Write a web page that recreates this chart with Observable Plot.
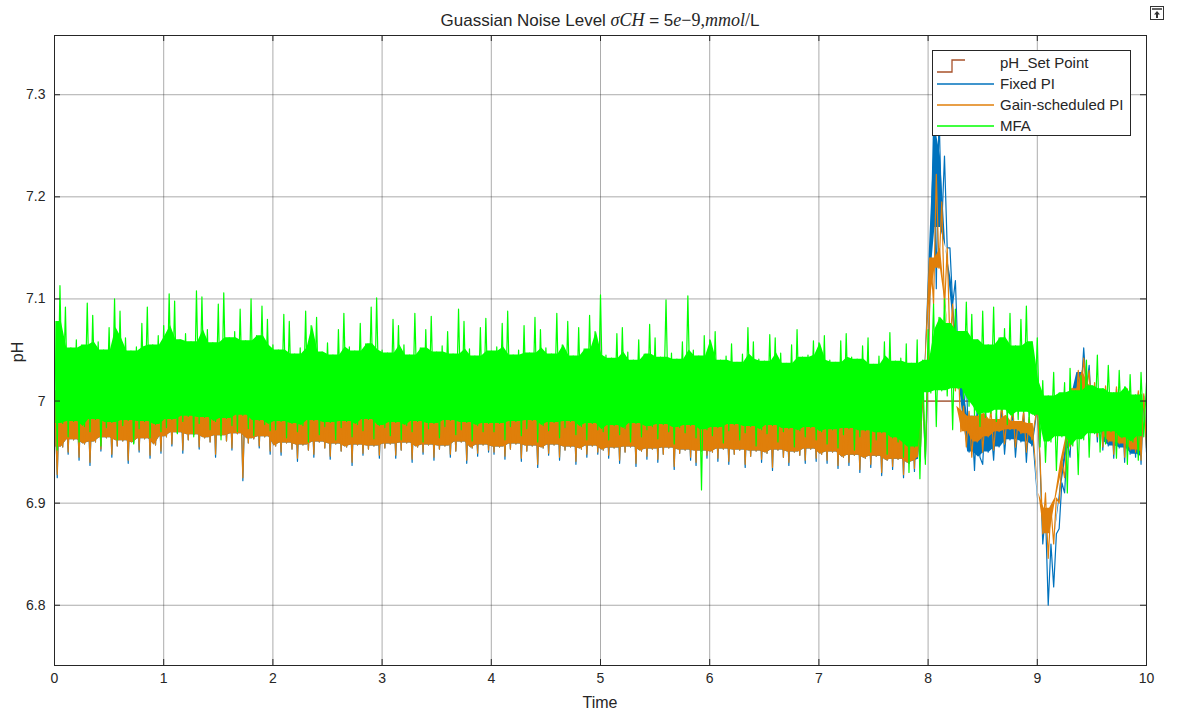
<!DOCTYPE html>
<html><head><meta charset="utf-8">
<script src="https://cdn.jsdelivr.net/npm/d3@7"></script>
<script src="https://cdn.jsdelivr.net/npm/@observablehq/plot@0.6"></script>
<style>
html,body{margin:0;padding:0;background:#fff;overflow:hidden}
#wrap{position:relative;width:1177px;height:718px;font-family:"Liberation Sans",Arial,sans-serif;color:#262626}
.abs{position:absolute;white-space:nowrap}
#title{left:600px;top:10px;transform:translateX(-50%);font-size:17px;line-height:20px}
.m{font-family:"Liberation Serif","DejaVu Serif",serif;font-style:italic;font-size:18px}
.s{font-family:"Liberation Serif","DejaVu Serif",serif;font-size:18px}
#xlab{left:600px;top:694px;transform:translateX(-50%);font-size:16px;line-height:18px}
#ylab{left:18px;top:352px;transform:translate(-50%,-50%) rotate(-90deg);font-size:16px;line-height:18px}
</style></head><body>
<div id="wrap">
<div id="chart"></div>
<div id="title" class="abs">Guassian Noise Level <span class="m">σCH</span> = 5<span class="m">e</span><span class="s">−9,</span><span class="m">mmol</span><span class="s">/</span>L</div>
<div id="xlab" class="abs">Time</div>
<div id="ylab" class="abs">pH</div>
</div>
<script>
// sample step of the simulation output (time units)
const dt = 0.025;
// tick labels
const xTicks = [0,1,2,3,4,5,6,7,8,9,10];
const yTicks = [6.8,6.9,7,7.1,7.2,7.3];
// series names
const seriesNames = ["pH_Set Point","Fixed PI","Gain-scheduled PI","MFA"];
// set point (time, pH)
const setPointT = [0, 10];
const setPointPH = [7, 7];
// pH deviations from 7, in thousandths of a pH unit, one value every dt
const mfa = [
78,-48,113,-22,92,-35,52,-20,60,-40,55,-25,96,-30,84,-18,58,-44,50,-26,72,-21,100,-38,88,-24,62,-19,49,-42,53,-27,76,-20,92,-36,55,-23,64,-30,
74,-26,105,-18,98,-32,60,-20,66,-15,58,-35,108,-22,102,-16,70,-28,57,-20,95,-38,106,-17,62,-24,68,-30,90,-14,59,-27,100,-34,64,-19,93,-23,80,-29,
55,-28,50,-20,85,-36,78,-22,46,-30,52,-24,88,-40,74,-19,82,-33,48,-25,57,-21,45,-38,70,-26,86,-20,53,-35,49,-23,76,-29,56,-18,92,-37,101,-24,
50,-26,47,-34,80,-21,74,-38,55,-24,45,-30,86,-20,52,-40,70,-27,83,-22,48,-36,54,-25,68,-19,46,-33,90,-28,78,-21,51,-39,44,-24,72,-30,81,-22,
49,-30,53,-22,76,-38,88,-25,45,-20,50,-34,74,-27,47,-19,82,-40,70,-24,52,-29,46,-21,86,-36,55,-26,78,-20,44,-33,72,-25,51,-38,84,-22,68,-28,
104,-30,45,-38,42,-24,66,-33,72,-27,48,-40,40,-22,60,-35,46,-28,75,-25,62,-37,43,-23,99,-30,47,-42,41,-26,58,-31,103,-24,50,-36,44,-87,64,-28,
60,-34,68,-26,40,-41,44,-29,56,-23,38,-38,46,-31,72,-25,58,-44,41,-28,39,-32,65,-24,62,-40,47,-30,37,-27,55,-45,70,-29,43,-35,45,-26,59,-38,
57,-30,64,-42,40,-28,38,-46,59,-33,66,-27,43,-48,41,-35,54,-29,62,-50,36,-38,44,-31,58,-52,67,-36,39,-40,42,-55,56,-70,37,-45,60,-76,40,-62,
70,8,95,-25,82,10,100,5,76,-28,90,12,68,2,97,-5,85,-14,60,-25,88,-16,55,-12,92,-20,62,-9,71,-23,86,-15,54,-18,80,-11,93,-21,58,-14,
62,-45,20,-60,5,-40,28,-68,8,-35,18,-90,32,-44,10,-72,25,-38,40,-55,15,-32,45,-50,12,-42,35,-30,8,-56,30,-36,14,-62,26,-40,6,-58,28,-35,18
];
const gainPI = [
10,-72,28,-45,22,-50,30,-38,18,-55,34,-42,25,-60,20,-40,32,-47,16,-36,27,-52,22,-44,35,-39,19,-58,26,-41,31,-48,21,-37,29,-53,24,-43,17,-49,
30,-35,38,-42,26,-31,40,-48,33,-38,24,-33,42,-45,35,-36,28,-40,37,-52,31,-34,44,-39,27,-46,36,-32,32,-75,25,-41,39,-37,30,-44,34,-35,29,-49,
22,-44,18,-50,27,-41,15,-47,24,-56,20,-43,29,-48,17,-52,23,-40,26,-46,19,-54,21,-42,28,-49,16,-45,25,-60,22,-43,18,-51,27,-47,20,-44,24,-53,
19,-46,25,-42,16,-53,23,-48,28,-41,14,-57,21,-45,26,-50,18,-43,22,-55,27,-47,15,-44,24,-52,20,-49,17,-40,29,-58,23,-46,13,-51,25,-43,19,-48,
21,-50,16,-45,26,-54,19,-47,23,-42,14,-56,27,-49,20,-44,17,-62,24,-46,15,-51,22,-43,28,-55,18,-48,21,-45,13,-59,25,-47,19,-52,16,-44,23,-50,
18,-48,22,-53,14,-46,25,-58,17,-50,20,-45,12,-61,23,-49,19,-54,15,-47,24,-57,16,-52,21,-46,13,-64,20,-51,18,-48,11,-55,22,-60,17,-49,14,-53,
20,-50,15,-56,23,-47,12,-59,18,-52,21,-48,14,-62,19,-54,16,-49,22,-57,13,-51,17,-65,20,-48,15,-55,11,-60,18,-50,21,-53,14,-58,16,-47,19,-56,
16,-52,12,-58,19,-50,14,-63,17,-55,10,-60,15,-53,18,-67,13,-56,11,-62,16,-54,9,-70,14,-58,12,-64,17,-57,8,-72,13,-61,10,-66,15,-59,11,-55,
30,140,95,222,130,195,90,150,55,95,10,40,-30,-5,-45,-10,-55,-15,-40,0,-50,-12,-35,-8,-48,-18,-30,-2,-42,-14,-28,-6,-45,-20,-32,-10,-50,-16,-38,-22,
-5,-55,-130,-90,-154,-105,-140,-95,-100,-60,-75,-35,-45,12,-15,30,2,42,10,30,-15,18,-35,10,-45,15,-40,8,-52,14,-42,6,-55,12,-48,4,-50,10,-58,7,-46
];
const fixedPI = [
10,-75,28,-45,22,-52,30,-38,18,-58,34,-42,25,-63,20,-40,32,-49,16,-36,27,-55,22,-44,35,-39,19,-61,26,-41,31,-50,21,-37,29,-56,24,-43,17,-51,
30,-35,38,-44,26,-31,40,-51,33,-38,24,-33,42,-47,35,-36,28,-40,37,-55,31,-34,44,-39,27,-48,36,-32,32,-78,25,-41,39,-37,30,-46,34,-35,29,-52,
22,-44,18,-53,27,-41,15,-47,24,-59,20,-43,29,-48,17,-55,23,-40,26,-46,19,-57,21,-42,28,-49,16,-45,25,-63,22,-43,18,-53,27,-47,20,-44,24,-56,
19,-46,25,-42,16,-56,23,-48,28,-41,14,-60,21,-45,26,-52,18,-43,22,-58,27,-47,15,-44,24,-55,20,-49,17,-40,29,-61,23,-46,13,-54,25,-43,19,-50,
21,-52,16,-45,26,-57,19,-47,23,-42,14,-59,27,-49,20,-44,17,-65,24,-46,15,-53,22,-43,28,-58,18,-48,21,-45,13,-62,25,-47,19,-55,16,-44,23,-52,
18,-48,22,-56,14,-46,25,-61,17,-50,20,-45,12,-64,23,-49,19,-57,15,-47,24,-60,16,-52,21,-46,13,-67,20,-51,18,-48,11,-58,22,-63,17,-49,14,-56,
20,-50,15,-59,23,-47,12,-62,18,-52,21,-48,14,-65,19,-54,16,-49,22,-60,13,-51,17,-68,20,-48,15,-55,11,-63,18,-50,21,-53,14,-61,16,-47,19,-59,
16,-52,12,-61,19,-50,14,-66,17,-55,10,-63,15,-53,18,-70,13,-56,11,-65,16,-54,9,-73,14,-58,12,-67,17,-57,8,-75,13,-61,10,-69,15,-59,11,-57,
30,150,270,110,285,170,240,150,150,95,118,40,60,-10,20,-50,-15,-68,-5,-55,-62,-8,-50,-25,-58,-12,-45,-5,-52,-20,-38,-10,-55,-22,-40,-12,-60,-18,-44,-26,
-5,-60,-140,-110,-200,-140,-182,-130,-125,-80,-90,-40,-55,5,-25,28,8,52,12,35,-18,15,-40,8,-48,12,-44,5,-56,12,-46,3,-60,10,-52,2,-55,8,-62,5,-50
];
const colors = ["#A8512A","#0072BD","#E07F0A","#00FF00"];

const toRows = (arr) => arr.map((v, i) => ({t: i * dt, ph: 7 + v / 1000}));
// consecutive sample pairs -> local high/low of the trace
const toPairs = (arr) => {
  const out = [];
  for (let k = 0; 2 * k + 1 < arr.length; k++) {
    const a = arr[2 * k], b = arr[2 * k + 1];
    out.push({t: (2 * k + 0.5) * dt, hi: 7 + Math.max(a, b) / 1000, lo: 7 + Math.min(a, b) / 1000});
  }
  return out;
};
// dense core of the noise: the band covered by all neighbouring swings
const band = (list) => [d3.max(list, d => d.lo), d3.min(list, d => d.hi)];
const toCore = (pairs) => pairs.map((p, k) => {
  const n = pairs.length;
  const prev = pairs[Math.max(k - 1, 0)], next = pairs[Math.min(k + 1, n - 1)];
  let [lo, hi] = band([prev, p, next]);
  if (lo > hi) [lo, hi] = band([p, next]);
  if (lo > hi) lo = hi;
  return {t: p.t, lo, hi};
});
const setRows = setPointT.map((t, i) => ({t, ph: setPointPH[i]}));
const series = [
  {rows: toRows(fixedPI), core: toCore(toPairs(fixedPI)), color: colors[1]},
  {rows: toRows(gainPI), core: toCore(toPairs(gainPI)), color: colors[2]},
  {rows: toRows(mfa), core: toCore(toPairs(mfa)), color: colors[3]}
];

const W = 1177, H = 718, mL = 54, mR = 31, mT = 35, mB = 53;
const pw = W - mL - mR, ph = H - mT - mB;
const ink = "#262626";

const noiseMarks = series.flatMap(s => [
  Plot.areaY(s.core, {x: "t", y1: "lo", y2: "hi", fill: s.color, clip: true}),
  Plot.line(s.rows, {x: "t", y: "ph", stroke: s.color, strokeWidth: 1.2, clip: true})
]);

const chart = Plot.plot({
  width: W, height: H,
  marginLeft: mL, marginRight: mR, marginTop: mT, marginBottom: mB,
  style: {fontFamily: "'Liberation Sans', Arial, sans-serif", fontSize: "14px", color: ink, background: "#fff", overflow: "visible"},
  x: {domain: [0, 10]},
  y: {domain: [6.741, 7.358]},
  marks: [
    Plot.gridX(xTicks, {stroke: ink, strokeOpacity: 0.38}),
    Plot.gridY(yTicks, {stroke: ink, strokeOpacity: 0.38}),
    Plot.line(setRows, {x: "t", y: "ph", stroke: colors[0], strokeWidth: 1.3, clip: true}),
    ...noiseMarks,
    Plot.tickX(xTicks, {x: d => d, insetTop: ph - 6, stroke: ink}),
    Plot.tickX(xTicks, {x: d => d, insetBottom: ph - 6, stroke: ink}),
    Plot.tickY(yTicks, {y: d => d, insetRight: pw - 6, stroke: ink}),
    Plot.tickY(yTicks, {y: d => d, insetLeft: pw - 6, stroke: ink}),
    Plot.frame({stroke: ink}),
    Plot.axisX(xTicks, {tickSize: 0, tickPadding: 8, label: null, tickFormat: d => String(d)}),
    Plot.axisY(yTicks, {tickSize: 0, tickPadding: 9, label: null, tickFormat: d => String(d)})
  ]
});
document.getElementById("chart").appendChild(chart);

// legend (inside the axes, top-right)
const wrap = document.getElementById("wrap");
const ns = "http://www.w3.org/2000/svg";
const leg = document.createElementNS(ns, "svg");
leg.setAttribute("width", 201); leg.setAttribute("height", 88);
leg.setAttribute("class", "abs");
leg.style.left = "931px"; leg.style.top = "49px";
let html = `<rect x="1.5" y="1.5" width="198" height="85" fill="#fff" stroke="${ink}" stroke-width="1"/>`;
const rowsY = [14, 35, 56, 77];
seriesNames.forEach((name, k) => {
  const y = rowsY[k];
  if (k === 0) {
    html += `<path d="M6,${y+9}H21V${y-3}H34" fill="none" stroke="${colors[0]}" stroke-width="1.3"/>`;
  } else {
    html += `<line x1="6" x2="63" y1="${y}" y2="${y}" stroke="${colors[k]}" stroke-width="1.6"/>`;
  }
  html += `<text x="69" y="${y + 5}" font-family="'Liberation Sans', Arial, sans-serif" font-size="15" fill="${ink}">${name}</text>`;
});
leg.innerHTML = html;
wrap.appendChild(leg);

// figure toolbar icon
const ic = document.createElementNS(ns, "svg");
ic.setAttribute("width", 16); ic.setAttribute("height", 16);
ic.setAttribute("class", "abs");
ic.style.left = "1149px"; ic.style.top = "5px";
ic.innerHTML = `<rect x="1.5" y="1.5" width="13" height="13" fill="#fff" stroke="#333"/><line x1="3" x2="13" y1="4" y2="4" stroke="#333" stroke-width="1.5"/><path d="M8,6L5,9.5H7V13H9V9.5H11Z" fill="#333"/>`;
wrap.appendChild(ic);
</script>
</body></html>
